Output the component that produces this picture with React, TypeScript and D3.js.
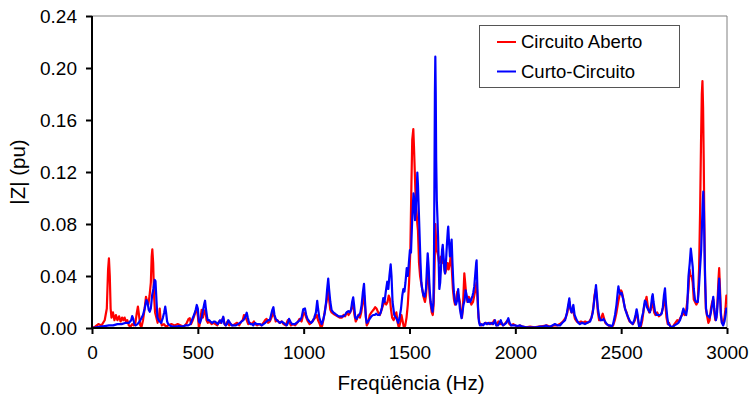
import React, { useEffect, useRef } from "react";
import * as d3 from "d3";

const xTicks = [0, 500, 1000, 1500, 2000, 2500, 3000];
const yTicks = [0, 0.04, 0.08, 0.12, 0.16, 0.2, 0.24];
const seriesNames = ["Circuito Aberto", "Curto-Circuito"];
const seriesColors = ["#ff0000", "#0000ff"];

const openFreq = [0,15,30,45,60,70,76,80,84,88,92,99,106,113,120,128,135,142,148,154,160,167,174,182,190,198,205,212,217,222,228,234,241,248,255,261,266,272,278,282,285,289,293,298,304,310,316,320,324,330,340,350,360,375,390,405,420,435,448,456,462,468,476,482,490,496,501,505,510,518,524,530,536,541,547,555,565,575,583,592,600,607,614,620,626,632,640,648,656,665,675,685,695,705,712,718,724,731,738,746,756,765,770,780,790,800,810,818,825,832,840,848,856,862,868,876,885,896,905,915,925,931,940,950,960,970,980,990,1000,1006,1012,1020,1028,1035,1045,1055,1062,1068,1076,1082,1088,1095,1102,1110,1116,1120,1126,1132,1140,1150,1160,1170,1180,1188,1196,1204,1212,1220,1228,1234,1240,1246,1252,1258,1266,1272,1280,1286,1292,1298,1305,1312,1320,1330,1338,1344,1352,1360,1368,1376,1384,1390,1396,1402,1408,1412,1418,1425,1432,1438,1444,1450,1456,1462,1468,1474,1480,1486,1492,1498,1504,1509,1513,1518,1521,1525,1529,1533,1537,1540,1545,1550,1555,1560,1566,1573,1578,1582,1586,1590,1595,1600,1605,1610,1614,1617,1620,1622,1625,1628,1632,1636,1640,1645,1649,1652,1657,1662,1668,1674,1680,1685,1691,1696,1700,1705,1710,1715,1720,1726,1732,1738,1744,1748,1752,1756,1759,1763,1768,1774,1780,1786,1792,1800,1806,1812,1817,1822,1826,1832,1840,1850,1860,1870,1880,1890,1900,1906,1912,1920,1928,1935,1942,1950,1958,1965,1972,1980,1990,2000,2010,2022,2035,2050,2070,2090,2110,2130,2150,2165,2180,2195,2210,2225,2238,2246,2252,2256,2260,2265,2270,2275,2282,2290,2300,2310,2320,2330,2340,2350,2360,2368,2374,2380,2384,2390,2396,2402,2408,2413,2418,2425,2432,2440,2448,2455,2462,2470,2478,2486,2492,2499,2503,2508,2514,2520,2526,2532,2540,2548,2556,2565,2572,2578,2585,2593,2600,2607,2614,2620,2625,2632,2640,2646,2650,2656,2662,2670,2678,2686,2692,2698,2704,2708,2714,2720,2726,2732,2740,2748,2756,2765,2772,2780,2788,2795,2800,2806,2812,2818,2823,2828,2833,2838,2843,2849,2855,2862,2868,2873,2877,2881,2884,2887,2890,2893,2896,2900,2905,2912,2918,2924,2930,2935,2940,2945,2950,2955,2960,2963,2967,2971,2976,2982,2988,2993,2997,3000];
const openValues = [0,0.001,0.003,0.002,0.006,0.015,0.045,0.0535,0.04,0.015,0.008,0.012,0.006,0.01,0.006,0.009,0.005,0.008,0.006,0.008,0.005,0.006,0.002,0.001,0.003,0.002,0.004,0.012,0.0165,0.01,0.002,0.001,0.006,0.014,0.024,0.02,0.018,0.025,0.035,0.055,0.0605,0.05,0.025,0.012,0.008,0.004,0.008,0.015,0.006,0.002,0.003,0.001,0.002,0.003,0.002,0.003,0.002,0.001,0.004,0.007,0.0075,0.003,0.006,0.009,0.013,0.014,0.008,0,0.004,0.014,0.008,0.012,0.014,0.006,0.004,0.005,0.003,0.004,0.003,0.002,0.005,0.004,0.006,0.008,0.003,0.002,0.005,0.002,0.003,0.002,0.003,0.004,0.002,0.005,0.006,0.01,0.009,0.006,0.003,0.004,0.003,0.005,0.003,0.002,0.003,0.002,0.004,0.006,0.007,0.004,0.005,0.008,0.012,0.009,0.005,0.006,0.004,0.005,0.003,0.002,0.006,0.005,0.002,0.003,0.002,0.004,0.007,0.005,0.012,0.011,0.008,0.005,0.003,0.004,0.006,0.008,0.01,0.006,0.003,0,0.002,0.008,0.015,0.022,0.032,0.022,0.014,0.012,0.011,0.01,0.009,0.008,0.008,0.01,0.009,0.012,0.01,0.012,0.016,0.018,0.01,0.005,0.007,0.01,0.008,0.012,0.02,0.025,0.012,0.002,0.004,0.01,0.012,0.014,0.016,0.015,0.012,0.01,0.014,0.018,0.02,0.018,0.02,0.025,0.022,0.015,0.008,0.006,0.009,0.012,0.004,0,0.004,0.01,0.005,0,0.002,0.008,0.018,0.035,0.06,0.11,0.145,0.153,0.14,0.12,0.1,0.09,0.08,0.075,0.05,0.04,0.035,0.03,0.024,0.02,0.025,0.035,0.05,0.04,0.025,0.018,0.012,0.01,0.018,0.035,0.06,0.08,0.07,0.06,0.058,0.055,0.05,0.052,0.055,0.05,0.055,0.05,0.042,0.045,0.05,0.045,0.05,0.058,0.045,0.03,0.022,0.018,0.022,0.028,0.025,0.02,0.01,0.008,0.015,0.03,0.042,0.035,0.025,0.02,0.024,0.022,0.018,0.02,0.025,0.03,0.035,0.02,0.008,0.003,0.002,0.003,0.004,0.003,0.004,0.003,0.006,0.004,0.002,0.005,0.003,0.004,0.002,0.003,0.005,0.006,0.003,0.002,0.003,0.002,0.001,0.002,0.001,0.0005,0.001,0.0005,0.001,0.0015,0.002,0.001,0.002,0.002,0.003,0.005,0.008,0.012,0.018,0.02,0.015,0.012,0.014,0.012,0.007,0.005,0.004,0.005,0.004,0.005,0.004,0.005,0.008,0.015,0.025,0.03,0.025,0.012,0.006,0.006,0.009,0.011,0.008,0.004,0.003,0.002,0.001,0.0005,0.002,0.006,0.012,0.02,0.025,0.029,0.028,0.024,0.018,0.014,0.012,0.008,0.005,0.004,0.003,0.006,0.012,0.008,0.002,0.001,0.006,0.015,0.02,0.024,0.018,0.012,0.014,0.02,0.018,0.012,0.01,0.012,0.009,0.01,0.012,0.016,0.024,0.02,0.008,0.003,0.004,0.001,0,0.002,0.004,0.006,0.005,0.008,0.01,0.012,0.01,0.012,0.02,0.03,0.045,0.04,0.04,0.035,0.022,0.02,0.018,0.02,0.045,0.09,0.14,0.18,0.19,0.17,0.13,0.08,0.04,0.015,0.01,0.004,0.006,0.015,0.02,0.022,0.012,0.006,0.008,0.02,0.038,0.046,0.03,0.012,0.004,0.003,0.008,0.015,0.025,0.018];

const shortFreq = [0,20,40,60,80,100,120,140,160,175,185,190,195,200,206,215,225,235,241,249,257,262,268,273,278,284,290,296,300,305,309,315,320,327,335,341,346,350,355,360,368,380,395,410,425,440,455,465,472,482,490,495,500,505,510,518,526,531,534,538,544,547,553,560,568,575,581,588,595,605,612,620,626,632,638,644,652,660,670,680,690,700,707,715,722,727,731,736,742,748,756,762,770,778,786,794,802,810,818,825,833,840,846,852,857,862,868,873,880,888,896,905,912,920,926,931,937,945,952,959,966,975,982,990,998,1006,1012,1018,1027,1035,1042,1050,1058,1064,1068,1074,1080,1085,1092,1100,1106,1111,1116,1120,1126,1132,1140,1148,1156,1165,1175,1187,1195,1203,1211,1218,1224,1229,1234,1238,1244,1250,1256,1262,1268,1274,1280,1285,1290,1294,1298,1304,1312,1320,1328,1336,1342,1350,1358,1364,1370,1376,1382,1388,1395,1400,1405,1411,1415,1420,1428,1436,1442,1447,1453,1460,1466,1471,1476,1481,1487,1492,1497,1502,1507,1512,1516,1519,1522,1526,1530,1534,1537,1540,1544,1548,1552,1556,1560,1566,1572,1578,1582,1586,1590,1595,1600,1605,1609,1613,1616,1618,1620,1622,1624,1626,1629,1632,1635,1638,1641,1645,1650,1654,1657,1661,1665,1668,1672,1677,1681,1683,1687,1691,1695,1699,1703,1707,1710,1715,1720,1726,1730,1734,1738,1743,1746,1750,1755,1760,1765,1771,1776,1781,1786,1792,1798,1801,1806,1811,1815,1817,1820,1824,1828,1833,1840,1848,1857,1865,1872,1880,1888,1896,1904,1910,1918,1925,1931,1937,1942,1950,1958,1967,1973,1980,1990,1998,2010,2022,2035,2050,2065,2080,2100,2116,2130,2145,2155,2164,2175,2187,2200,2211,2222,2235,2244,2250,2255,2260,2266,2270,2274,2280,2290,2298,2305,2315,2329,2340,2353,2360,2366,2372,2378,2381,2385,2390,2397,2403,2410,2416,2424,2432,2440,2448,2455,2462,2471,2478,2484,2487,2491,2496,2502,2510,2518,2526,2534,2542,2548,2554,2562,2568,2573,2578,2582,2585,2592,2598,2604,2609,2612,2617,2622,2628,2636,2642,2646,2649,2653,2660,2668,2676,2684,2691,2697,2702,2707,2712,2718,2723,2730,2739,2745,2752,2762,2770,2778,2786,2794,2800,2807,2812,2818,2824,2829,2833,2838,2843,2849,2855,2862,2867,2873,2878,2882,2885,2888,2891,2894,2897,2901,2906,2912,2918,2924,2930,2935,2940,2945,2948,2953,2958,2963,2967,2971,2976,2982,2988,2993,2997,3000];
const shortValues = [0,0.0005,0.001,0.0015,0.002,0.002,0.003,0.003,0.004,0.004,0.006,0.0092,0.007,0.003,0.002,0.003,0.005,0.008,0.01,0.015,0.0215,0.02,0.014,0.0125,0.015,0.025,0.03,0.037,0.036,0.02,0.008,0.006,0.005,0.004,0.008,0.012,0.0164,0.012,0.005,0.003,0.002,0.001,0.001,0.0015,0.001,0.002,0.002,0.003,0.006,0.01,0.014,0.0177,0.015,0.005,0.004,0.008,0.015,0.019,0.021,0.015,0.008,0.006,0.006,0.005,0.004,0.005,0.005,0.004,0.003,0.006,0.004,0.0087,0.003,0.002,0.003,0.006,0.004,0.002,0.002,0.002,0.003,0.004,0.005,0.006,0.008,0.01,0.0118,0.008,0.004,0.003,0.003,0.002,0.004,0.003,0.003,0.003,0.002,0.003,0.004,0.005,0.006,0.006,0.01,0.014,0.016,0.01,0.007,0.006,0.005,0.004,0.005,0.004,0.003,0.002,0.004,0.007,0.005,0.003,0.003,0.003,0.004,0.005,0.006,0.008,0.0144,0.015,0.01,0.007,0.005,0.004,0.005,0.008,0.012,0.0208,0.015,0.008,0.005,0.003,0.006,0.012,0.02,0.03,0.038,0.03,0.02,0.0138,0.012,0.011,0.01,0.009,0.009,0.009,0.01,0.012,0.013,0.012,0.014,0.02,0.0236,0.018,0.008,0.007,0.009,0.01,0.012,0.018,0.028,0.034,0.02,0.008,0.004,0.005,0.007,0.009,0.01,0.01,0.011,0.01,0.01,0.012,0.016,0.023,0.02,0.028,0.0356,0.03,0.04,0.049,0.04,0.02,0.01,0.008,0.006,0.004,0.008,0.015,0.025,0.03,0.028,0.035,0.046,0.04,0.05,0.06,0.058,0.08,0.095,0.1036,0.1,0.083,0.09,0.105,0.1195,0.11,0.09,0.07,0.05,0.035,0.03,0.025,0.024,0.03,0.045,0.0575,0.048,0.03,0.02,0.015,0.0125,0.02,0.06,0.12,0.18,0.2087,0.18,0.13,0.098,0.085,0.07,0.05,0.03,0.035,0.05,0.06,0.064,0.055,0.045,0.042,0.05,0.065,0.075,0.078,0.065,0.055,0.062,0.068,0.05,0.035,0.027,0.02,0.018,0.022,0.03,0.022,0.015,0.01,0.0075,0.012,0.018,0.021,0.029,0.024,0.02,0.022,0.02,0.022,0.025,0.027,0.032,0.042,0.05,0.052,0.035,0.015,0.005,0.002,0.003,0.002,0.004,0.003,0.004,0.003,0.004,0.003,0.006,0.002,0.002,0.004,0.006,0.003,0.002,0.003,0.004,0.0075,0.004,0.002,0.002,0.002,0.0015,0.002,0.001,0.0005,0.0005,0.0005,0.0005,0.001,0.001,0.002,0.001,0.001,0.002,0.003,0.002,0.002,0.004,0.006,0.012,0.018,0.0228,0.015,0.012,0.015,0.0177,0.01,0.006,0.004,0.003,0.004,0.003,0.004,0.005,0.008,0.012,0.02,0.028,0.033,0.025,0.015,0.008,0.006,0.006,0.007,0.005,0.003,0.002,0.002,0.001,0.003,0.01,0.018,0.028,0.032,0.028,0.026,0.027,0.022,0.015,0.011,0.008,0.005,0.004,0.003,0.006,0.01,0.0144,0.01,0.004,0.001,0.002,0.008,0.012,0.018,0.021,0.02,0.016,0.014,0.012,0.018,0.024,0.026,0.02,0.0125,0.01,0.01,0.01,0.011,0.016,0.025,0.0305,0.018,0.008,0.003,0.002,0.0005,0.001,0.002,0.003,0.004,0.006,0.01,0.015,0.012,0.01,0.015,0.0395,0.05,0.061,0.055,0.047,0.03,0.0215,0.02,0.02,0.03,0.047,0.06,0.08,0.095,0.1049,0.09,0.06,0.035,0.015,0.01,0.009,0.008,0.012,0.018,0.024,0.015,0.008,0.006,0.012,0.025,0.038,0.025,0.01,0.004,0.002,0.005,0.01,0.015,0.012];

const W = 752;
const H = 398;
const FONT = "'Liberation Sans', Arial, sans-serif";

export default function App() {
  const ref = useRef<SVGSVGElement>(null);

  useEffect(() => {
    const svg = d3.select(ref.current);
    svg.selectAll("*").remove();

    const left = 92, right = 727, top = 16, bottom = 328;
    const x = d3.scaleLinear().domain([0, 3000]).range([left, right]);
    const y = d3.scaleLinear().domain([0, 0.24]).range([bottom, top]);

    svg.append("rect").attr("width", W).attr("height", H).attr("fill", "#fff");

    svg.append("path")
      .attr("d", `M${left},${top}H${right}V${bottom}`)
      .attr("fill", "none").attr("stroke", "#808080").attr("stroke-width", 1);

    svg.append("defs").append("clipPath").attr("id", "plotclip")
      .append("rect").attr("x", left).attr("y", top).attr("width", right - left).attr("height", bottom - top);

    const series = [
      { f: openFreq, v: openValues },
      { f: shortFreq, v: shortValues },
    ];
    const line = d3.line<[number, number]>().x(d => x(d[0])).y(d => y(d[1]));
    series.forEach((s, i) => {
      const pts: [number, number][] = s.f.map((f, k) => [f, s.v[k]]);
      svg.append("path")
        .attr("d", line(pts) || "")
        .attr("fill", "none")
        .attr("stroke", seriesColors[i])
        .attr("stroke-width", 2.2)
        .attr("stroke-linejoin", "round")
        .attr("clip-path", "url(#plotclip)");
    });

    const xAxis = d3.axisBottom(x).tickValues(xTicks).tickSize(6).tickPadding(12).tickFormat(d3.format("d"));
    const gx = svg.append("g").attr("transform", `translate(0,${bottom})`).call(xAxis);
    gx.select(".domain").attr("stroke", "#000").attr("stroke-width", 2).attr("d", `M${left - 1},0H${right}`);
    gx.selectAll(".tick line").attr("stroke", "#000").attr("stroke-width", 2);
    gx.selectAll("text").attr("font-family", FONT).attr("font-size", 19).attr("fill", "#000");

    const yAxis = d3.axisLeft(y).tickValues(yTicks).tickSize(6).tickPadding(9).tickFormat(d3.format(".2f"));
    const gy = svg.append("g").attr("transform", `translate(${left},0)`).call(yAxis);
    gy.select(".domain").attr("stroke", "#000").attr("stroke-width", 2).attr("d", `M0,${top}V${bottom + 1}`);
    gy.selectAll(".tick line").attr("stroke", "#000").attr("stroke-width", 2);
    gy.selectAll("text").attr("font-family", FONT).attr("font-size", 19).attr("fill", "#000");

    svg.append("text").attr("x", 411).attr("y", 390)
      .attr("text-anchor", "middle").attr("font-family", FONT).attr("font-size", 20.5)
      .text("Freqüência (Hz)");
    svg.append("text").attr("transform", `translate(25,${(top + bottom) / 2}) rotate(-90)`)
      .attr("text-anchor", "middle").attr("font-family", FONT).attr("font-size", 20.5)
      .text("|Z| (pu)");

    const lg = svg.append("g");
    lg.append("rect").attr("x", 479.5).attr("y", 25.5).attr("width", 200).attr("height", 62)
      .attr("fill", "#fff").attr("stroke", "#555").attr("stroke-width", 1);
    seriesNames.forEach((name, i) => {
      const yy = 42 + i * 29.5;
      lg.append("line").attr("x1", 497).attr("x2", 516).attr("y1", yy).attr("y2", yy)
        .attr("stroke", seriesColors[i]).attr("stroke-width", 2);
      lg.append("text").attr("x", 521).attr("y", yy).attr("dy", "0.35em")
        .attr("font-family", FONT).attr("font-size", 18.5).text(name);
    });
  }, []);

  return (
    <svg ref={ref} width={W} height={H} style={{ display: "block", position: "absolute", left: 0, top: 0 }} />
  );
}
